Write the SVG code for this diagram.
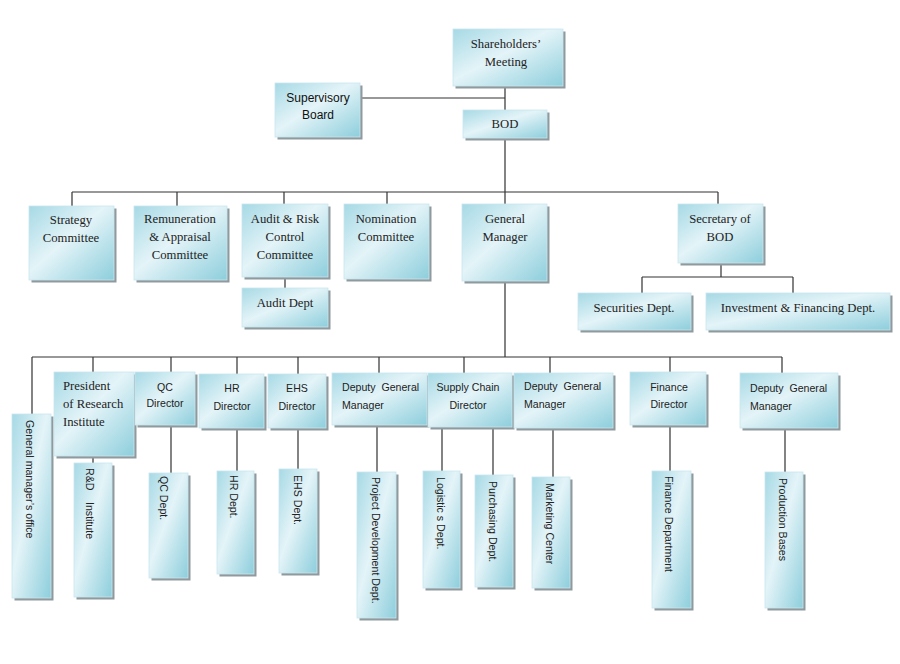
<svg xmlns="http://www.w3.org/2000/svg" width="900" height="664" viewBox="0 0 900 664">
<defs>
<linearGradient id="g" x1="0" y1="0" x2="1" y2="1">
<stop offset="0" stop-color="#a6d9e5"/>
<stop offset="0.45" stop-color="#e4f4f8"/>
<stop offset="1" stop-color="#8dcedc"/>
</linearGradient>
<style>
.b{fill:url(#g);stroke:#c9e6ee;stroke-width:0.8}
.s{fill:#8f9a9e}
.c{stroke:#333;stroke-width:1.2;fill:none}
.t{font-family:"Liberation Serif","Times New Roman",serif;font-size:12.7px;fill:#222;text-anchor:middle}
.tl{font-family:"Liberation Serif","Times New Roman",serif;font-size:12.7px;fill:#222}
.a{font-family:"Liberation Sans",Arial,sans-serif;font-size:12px;fill:#111;text-anchor:middle}
.n{font-family:"Liberation Sans",Arial,sans-serif;font-size:10.6px;fill:#222;text-anchor:middle}
.nl{font-family:"Liberation Sans",Arial,sans-serif;font-size:10.6px;fill:#222}
.v{font-family:"Liberation Sans",Arial,sans-serif;font-size:10.6px;fill:#222;dominant-baseline:central}
</style>
</defs>
<rect width="900" height="664" fill="#fff"/>
<g id="connectors">
<path class="c" d="M505,86V110M360,98H505M505,138V204M72,192H718M72,192V206M177,192V206M284,192V204M387,192V204M718,192V204M285,277V288M721,263V277M642,277H793M642,277V293M793,277V293M505,281V357M32,357H782M32,357V414M93,357V372M171,357V372M237,357V374M298,357V374M379,357V373M464,357V373M550,357V373M670,357V372M782,357V373M93,456V463M171,425V473M237,428V471M298,428V469M377,425V472M442,427V471M493,427V475M553,428V477M670,425V471M785,428V472"/>
</g>
<g id="shareholders"><rect class="s" x="455.5" y="31.5" width="110" height="57"/><rect class="b" x="453" y="29" width="110" height="57"/><text class="t" x="506" y="48">Shareholders’</text><text class="t" x="506" y="66">Meeting</text></g>
<g id="supervisory"><rect class="s" x="277.5" y="85.5" width="85" height="54"/><rect class="b" x="275" y="83" width="85" height="54"/><text class="a" x="318" y="102">Supervisory</text><text class="a" x="318" y="119">Board</text></g>
<g id="bod"><rect class="s" x="465.5" y="112.5" width="84" height="28"/><rect class="b" x="463" y="110" width="84" height="28"/><text class="t" x="505" y="128">BOD</text></g>
<g id="strategy"><rect class="s" x="31.5" y="208.5" width="85" height="74"/><rect class="b" x="29" y="206" width="85" height="74"/><text class="t" x="71" y="224">Strategy</text><text class="t" x="71" y="242">Committee</text></g>
<g id="remuneration"><rect class="s" x="136.5" y="208.5" width="93" height="74"/><rect class="b" x="134" y="206" width="93" height="74"/><text class="t" x="180" y="223">Remuneration</text><text class="t" x="180" y="241">&amp; Appraisal</text><text class="t" x="180" y="259">Committee</text></g>
<g id="audit"><rect class="s" x="244.5" y="206.5" width="86" height="73"/><rect class="b" x="242" y="204" width="86" height="73"/><text class="t" x="285" y="223">Audit &amp; Risk</text><text class="t" x="285" y="241">Control</text><text class="t" x="285" y="259">Committee</text></g>
<g id="auditdept"><rect class="s" x="244.5" y="290.5" width="86" height="39"/><rect class="b" x="242" y="288" width="86" height="39"/><text class="t" x="285" y="307">Audit Dept</text></g>
<g id="nomination"><rect class="s" x="346.5" y="206.5" width="85" height="75"/><rect class="b" x="344" y="204" width="85" height="75"/><text class="t" x="386" y="223">Nomination</text><text class="t" x="386" y="241">Committee</text></g>
<g id="gm"><rect class="s" x="464.5" y="206.5" width="85" height="77"/><rect class="b" x="462" y="204" width="85" height="77"/><text class="t" x="505" y="223">General</text><text class="t" x="505" y="241">Manager</text></g>
<g id="secretary"><rect class="s" x="680.5" y="206.5" width="85" height="59"/><rect class="b" x="678" y="204" width="85" height="59"/><text class="t" x="720" y="223">Secretary of</text><text class="t" x="720" y="241">BOD</text></g>
<g id="securities"><rect class="s" x="580.5" y="295.5" width="113" height="37"/><rect class="b" x="578" y="293" width="113" height="37"/><text class="t" x="634" y="312">Securities Dept.</text></g>
<g id="investment"><rect class="s" x="708.5" y="295.5" width="184" height="37"/><rect class="b" x="706" y="293" width="184" height="37"/><text class="t" x="798" y="312">Investment &amp; Financing Dept.</text></g>
<g id="gmoffice"><rect class="s" x="14.5" y="416.5" width="39" height="184"/><rect class="b" x="12" y="414" width="39" height="184"/><text class="v" transform="translate(30,420) rotate(90)">General manager’s office</text></g>
<g id="president"><rect class="s" x="56.5" y="374.5" width="80" height="84"/><rect class="b" x="54" y="372" width="80" height="84"/><text class="tl" x="63" y="390">President</text><text class="tl" x="63" y="408">of Research</text><text class="tl" x="63" y="426">Institute</text></g>
<g id="rnd"><rect class="s" x="76.5" y="465.5" width="38" height="134"/><rect class="b" x="74" y="463" width="38" height="134"/><text class="v" transform="translate(90,468) rotate(90)">R&amp;D</text><text class="v" transform="translate(90,502) rotate(90)">Institute</text></g>
<g id="qcdir"><rect class="s" x="137.5" y="374.5" width="60" height="53"/><rect class="b" x="135" y="372" width="60" height="53"/><text class="n" x="165" y="391">QC</text><text class="n" x="165" y="407">Director</text></g>
<g id="qcdept"><rect class="s" x="151.5" y="475.5" width="39" height="105"/><rect class="b" x="149" y="473" width="39" height="105"/><text class="v" transform="translate(164,476) rotate(90)">QC Dept.</text></g>
<g id="hrdir"><rect class="s" x="201.5" y="376.5" width="65" height="54"/><rect class="b" x="199" y="374" width="65" height="54"/><text class="n" x="232" y="392">HR</text><text class="n" x="232" y="410">Director</text></g>
<g id="hrdept"><rect class="s" x="219.5" y="473.5" width="37" height="103"/><rect class="b" x="217" y="471" width="37" height="103"/><text class="v" transform="translate(234,475) rotate(90)">HR Dept.</text></g>
<g id="ehsdir"><rect class="s" x="270.5" y="376.5" width="58" height="54"/><rect class="b" x="268" y="374" width="58" height="54"/><text class="n" x="297" y="392">EHS</text><text class="n" x="297" y="410">Director</text></g>
<g id="ehsdept"><rect class="s" x="281.5" y="471.5" width="38" height="104"/><rect class="b" x="279" y="469" width="38" height="104"/><text class="v" transform="translate(298,475) rotate(90)">EHS Dept.</text></g>
<g id="dgm1"><rect class="s" x="334.5" y="375.5" width="95" height="52"/><rect class="b" x="332" y="373" width="95" height="52"/><text class="nl" x="342" y="391" xml:space="preserve">Deputy  General</text><text class="nl" x="342" y="409">Manager</text></g>
<g id="projdev"><rect class="s" x="359.5" y="474.5" width="39" height="146"/><rect class="b" x="357" y="472" width="39" height="146"/><text class="v" transform="translate(376,477) rotate(90)">Project Development Dept.</text></g>
<g id="scdir"><rect class="s" x="430.5" y="375.5" width="84" height="54"/><rect class="b" x="428" y="373" width="84" height="54"/><text class="n" x="468" y="391">Supply Chain</text><text class="n" x="468" y="409">Director</text></g>
<g id="logistics"><rect class="s" x="425.5" y="473.5" width="37" height="117"/><rect class="b" x="423" y="471" width="37" height="117"/><text class="v" transform="translate(441,477) rotate(90)">Logistic s Dept.</text></g>
<g id="purchasing"><rect class="s" x="477.5" y="477.5" width="38" height="112"/><rect class="b" x="475" y="475" width="38" height="112"/><text class="v" transform="translate(493,481) rotate(90)">Purchasing Dept.</text></g>
<g id="dgm2"><rect class="s" x="516.5" y="375.5" width="99" height="55"/><rect class="b" x="514" y="373" width="99" height="55"/><text class="nl" x="524" y="390" xml:space="preserve">Deputy  General</text><text class="nl" x="524" y="408">Manager</text></g>
<g id="marketing"><rect class="s" x="534.5" y="479.5" width="38" height="111"/><rect class="b" x="532" y="477" width="38" height="111"/><text class="v" transform="translate(550,483) rotate(90)">Marketing Center</text></g>
<g id="findir"><rect class="s" x="632.5" y="374.5" width="76" height="53"/><rect class="b" x="630" y="372" width="76" height="53"/><text class="n" x="669" y="391">Finance</text><text class="n" x="669" y="408">Director</text></g>
<g id="findept"><rect class="s" x="654.5" y="473.5" width="39" height="137"/><rect class="b" x="652" y="471" width="39" height="137"/><text class="v" transform="translate(669,476) rotate(90)">Finance Department</text></g>
<g id="dgm3"><rect class="s" x="742.5" y="375.5" width="98" height="55"/><rect class="b" x="740" y="373" width="98" height="55"/><text class="nl" x="750" y="392" xml:space="preserve">Deputy  General</text><text class="nl" x="750" y="410">Manager</text></g>
<g id="production"><rect class="s" x="767.5" y="474.5" width="38" height="136"/><rect class="b" x="765" y="472" width="38" height="136"/><text class="v" transform="translate(783,478) rotate(90)">Production Bases</text></g>
</svg>
